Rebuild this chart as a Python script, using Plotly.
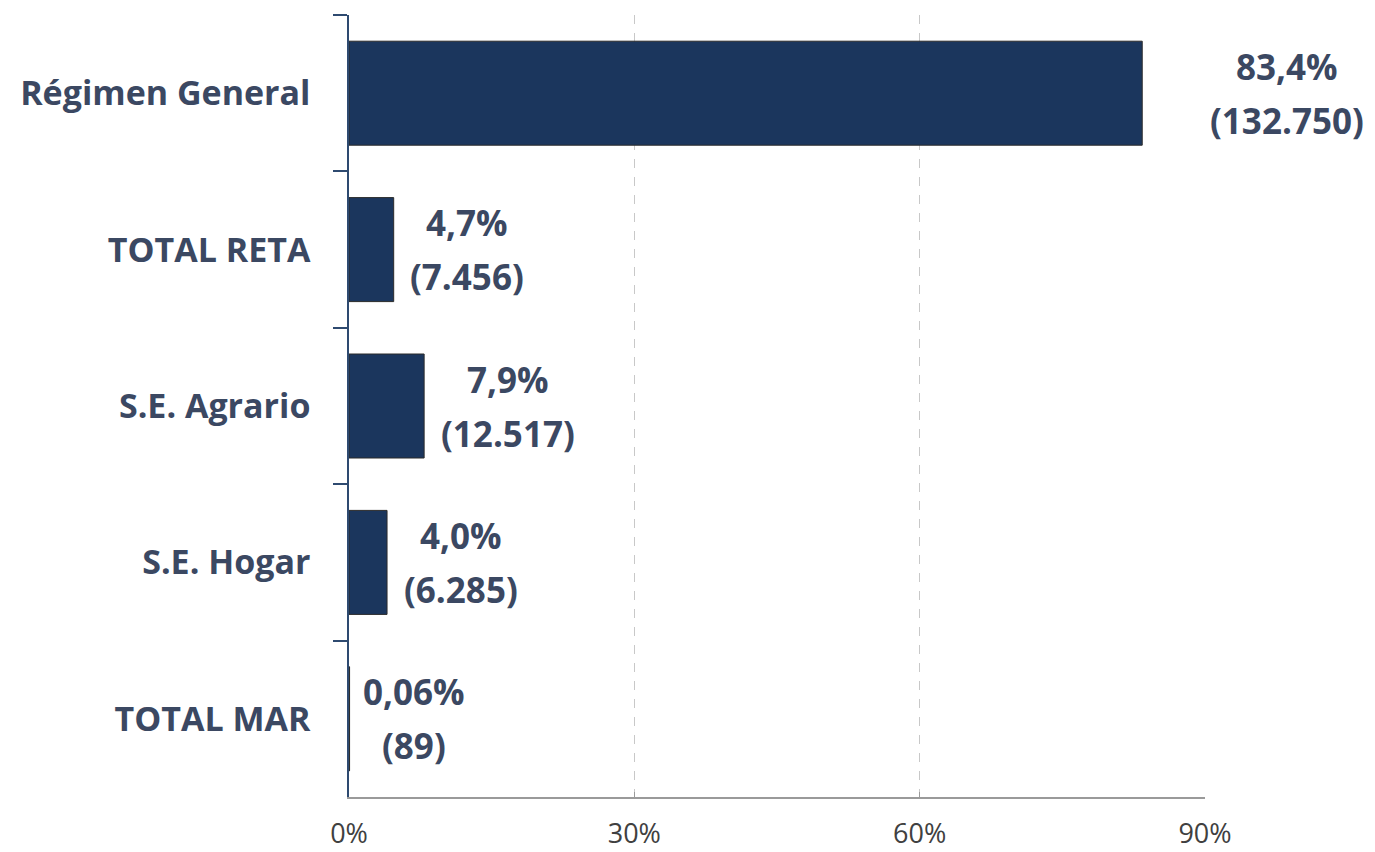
import plotly.graph_objects as go

categories = ["Régimen General", "TOTAL RETA", "S.E. Agrario", "S.E. Hogar", "TOTAL MAR"]
pct_values = [83.4, 4.7, 7.9, 4.0, 0.06]
counts = [132750, 7456, 12517, 6285, 89]
pct_labels = ["83,4%", "4,7%", "7,9%", "4,0%", "0,06%"]
count_labels = ["(132.750)", "(7.456)", "(12.517)", "(6.285)", "(89)"]
x_tickvals = [0, 30, 60, 90]
x_ticktext = ["0%", "30%", "60%", "90%"]

label_xshift = [145, 73, 84, 74, 64]

BAR = "#1b365d"
TXT = "#3b4862"
FONT = "Open Sans"

fig = go.Figure()
fig.add_trace(go.Bar(
    x=pct_values, y=categories, orientation="h",
    marker=dict(color=BAR, line=dict(color="#2b2b2b", width=1)),
    hoverinfo="skip",
))

for cat, v, p, c, dx in zip(categories, pct_values, pct_labels, count_labels, label_xshift):
    for txt, dy in ((p, 27), (c, -27)):
        fig.add_annotation(
            x=v, y=cat, text=txt, showarrow=False, xanchor="center", yanchor="middle",
            xshift=dx, yshift=dy,
            font=dict(family=FONT, size=35, color=TXT, weight="bold"),
        )

fig.update_layout(
    width=1367, height=844,
    margin=dict(l=341, r=170, t=7, b=55),
    paper_bgcolor="white", plot_bgcolor="white",
    showlegend=False, bargap=0.335,
    font=dict(family=FONT),
)
fig.update_xaxes(
    range=[0, 90], tickvals=x_tickvals, ticktext=x_ticktext,
    showgrid=True, gridcolor="#c8c8c8", griddash="dash", gridwidth=1,
    showline=True, linecolor="#9a9a9a", linewidth=1.5,
    ticks="inside", ticklen=5, tickcolor="#9a9a9a",
    tickfont=dict(family=FONT, size=27, color="#404040"),
    ticklabelstandoff=12,
    zeroline=False, fixedrange=True, automargin=False,
)
fig.update_yaxes(
    categoryorder="array", categoryarray=categories, autorange="reversed",
    showline=True, linecolor="#2e4a70", linewidth=1.5,
    ticks="outside", tickson="boundaries", ticklen=14, tickcolor="#2e4a70", tickwidth=1.5,
    tickfont=dict(family=FONT, size=34, color=TXT, weight="bold"),
    ticklabelstandoff=30,
    showgrid=False, zeroline=False, automargin=False,
)

fig.write_html("out.html")
